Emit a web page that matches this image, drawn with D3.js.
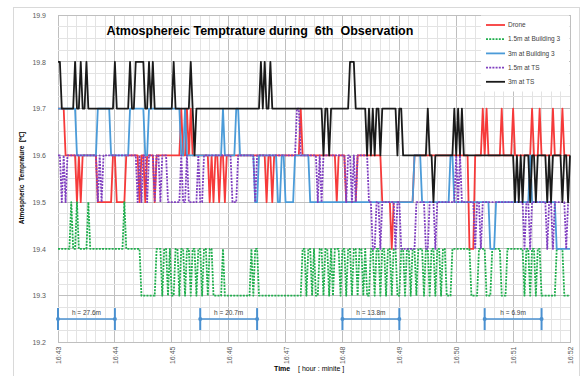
<!DOCTYPE html>
<html><head><meta charset="utf-8">
<script src="https://cdn.jsdelivr.net/npm/d3@7"></script>
<style>body{margin:0;background:#fff;} text{font-family:"Liberation Sans",Arial,sans-serif;}</style>
</head><body><svg id="c" width="581" height="376"></svg>
<script>
// time in seconds after 16:43:00, sampled every 2 s; values change at listed times
const xTickLabels = ["16:43","16:44","16:45","16:46","16:47","16:48","16:49","16:50","16:51","16:52"];
const yTickValues = [19.2,19.3,19.4,19.5,19.6,19.7,19.8,19.9];
const seriesNames = ["Drone","1.5m at Building 3","3m at Building 3","1.5m at TS","3m at TS"];

const droneT = [0,8,20,22,24,26,42,58,62,72,86,88,92,94,102,104,130,132,136,138,140,142,160,162,164,166,170,172,176,178,220,222,226,228,256,258,294,296,304,316,342,352,354,376,434,440,448,450,452,454,468,470,480,482,500,502,508,510,522,524,532,534];
const droneV = [19.7,19.6,19.5,19.6,19.5,19.6,19.5,19.6,19.5,19.6,19.5,19.6,19.5,19.6,19.5,19.6,19.7,19.6,19.7,19.6,19.7,19.6,19.5,19.6,19.5,19.6,19.5,19.6,19.5,19.6,19.5,19.6,19.5,19.6,19.7,19.6,19.5,19.6,19.5,19.6,19.5,19.4,19.5,19.6,19.4,19.6,19.7,19.6,19.7,19.6,19.7,19.6,19.7,19.6,19.7,19.6,19.7,19.6,19.7,19.6,19.7,19.6];

const b15T = [0,14,16,20,22,32,34,70,72,88,104,110,112,116,118,120,124,128,130,134,136,140,142,146,148,152,154,158,160,164,174,176,204,206,208,212,258,262,264,268,270,272,276,280,282,286,288,290,292,298,300,304,306,310,312,316,318,322,324,326,330,334,336,340,342,346,348,352,354,358,362,366,368,372,374,378,380,386,388,392,394,398,400,404,406,410,416,436,444,452,458,468,474,492,494,498,500,504,506,510,526,534];
const b15V = [19.4,19.5,19.4,19.5,19.4,19.5,19.4,19.5,19.4,19.3,19.4,19.3,19.4,19.3,19.4,19.3,19.4,19.3,19.4,19.3,19.4,19.3,19.4,19.3,19.4,19.3,19.4,19.3,19.4,19.3,19.4,19.3,19.4,19.3,19.4,19.3,19.4,19.3,19.4,19.3,19.4,19.3,19.4,19.3,19.4,19.3,19.4,19.3,19.4,19.3,19.4,19.3,19.4,19.3,19.4,19.3,19.4,19.3,19.4,19.3,19.4,19.3,19.4,19.3,19.4,19.3,19.4,19.3,19.4,19.3,19.4,19.3,19.4,19.3,19.4,19.3,19.4,19.3,19.4,19.3,19.4,19.3,19.4,19.3,19.4,19.3,19.4,19.3,19.4,19.3,19.4,19.3,19.4,19.3,19.4,19.3,19.4,19.3,19.4,19.3,19.4,19.3];

const b3T = [0,20,42,56,76,92,96,130,134,136,174,176,188,192,208,212,232,236,240,250,266,376,384,414,418,456,462,498,500,526];
const b3V = [19.7,19.6,19.7,19.6,19.7,19.6,19.7,19.6,19.7,19.6,19.7,19.6,19.7,19.6,19.5,19.6,19.5,19.6,19.5,19.6,19.5,19.6,19.5,19.6,19.5,19.4,19.5,19.6,19.5,19.4];

const ts15T = [0,4,6,8,10,42,44,46,48,84,86,88,90,94,96,102,104,108,110,116,130,132,136,138,148,150,154,184,190,208,210,252,256,274,276,278,280,304,306,310,312,314,316,328,332,336,340,342,356,358,362,378,388,392,398,400,420,422,424,426,440,442,446,448,492,494,498,500,516,518,522,524,536,538];
const ts15V = [19.6,19.5,19.6,19.5,19.6,19.5,19.6,19.5,19.6,19.5,19.6,19.5,19.6,19.5,19.6,19.5,19.6,19.5,19.6,19.5,19.6,19.5,19.6,19.5,19.6,19.5,19.6,19.5,19.6,19.5,19.6,19.7,19.6,19.5,19.6,19.5,19.6,19.5,19.6,19.5,19.6,19.5,19.6,19.5,19.4,19.5,19.4,19.5,19.4,19.5,19.4,19.5,19.4,19.5,19.4,19.5,19.6,19.5,19.6,19.5,19.4,19.5,19.4,19.5,19.4,19.5,19.4,19.5,19.4,19.5,19.4,19.5,19.4,19.5];

const ts3T = [0,4,18,20,24,26,30,32,60,62,76,78,82,92,96,98,100,102,122,124,140,142,144,146,214,216,218,220,224,226,280,282,286,288,308,314,326,328,330,332,334,336,340,342,358,360,364,390,392,396,398,418,420,422,424,426,428,482,484,486,488,490,492,498,500,504,506,516,518,520,522,532,534,538,540];
const ts3V = [19.8,19.7,19.8,19.7,19.8,19.7,19.8,19.7,19.8,19.7,19.8,19.7,19.8,19.7,19.8,19.7,19.8,19.7,19.8,19.7,19.8,19.7,19.6,19.7,19.8,19.7,19.8,19.7,19.8,19.7,19.6,19.7,19.6,19.7,19.8,19.7,19.6,19.7,19.6,19.7,19.6,19.7,19.6,19.7,19.6,19.7,19.6,19.7,19.6,19.5,19.6,19.7,19.6,19.7,19.6,19.7,19.6,19.5,19.6,19.5,19.6,19.5,19.6,19.5,19.6,19.5,19.6,19.5,19.6,19.5,19.6,19.5,19.6,19.5,19.6];

const heightLabels = ["h = 27.6m","h = 20.7m","h = 13.8m","h = 6.9m"];
const heightStart = [0,150,300,450];   // seconds
const heightEnd = [60,210,360,510];
const heightLevel = 19.25;

const svg = d3.select("#c");
const m = {l:58, r:570, t:15, b:342.5};
const x = d3.scaleLinear().domain([0,540]).range([m.l, m.r]);
const y = d3.scaleLinear().domain([19.2,19.9]).range([m.b, m.t]);

// chart border
svg.append("rect").attr("x",13.5).attr("y",7.5).attr("width",566).attr("height",372).attr("fill","#fff").attr("stroke","#d9d9d9");

// grid
const g = svg.append("g");
g.selectAll(".mx").data(d3.range(0,541,10)).join("line")
  .attr("x1",d=>x(d)).attr("x2",d=>x(d)).attr("y1",m.t).attr("y2",m.b)
  .attr("stroke",d=>d%60===0?"#bfbfbf":"#e3e3e3").attr("stroke-width",1).attr("shape-rendering","crispEdges");
g.selectAll(".my").data(d3.range(0,29)).join("line")
  .attr("y1",d=>y(19.2+d*0.025)).attr("y2",d=>y(19.2+d*0.025)).attr("x1",m.l).attr("x2",m.r)
  .attr("stroke",d=>d%4===0?"#bfbfbf":"#e3e3e3").attr("stroke-width",1).attr("shape-rendering","crispEdges");

// axes
const yAxis = d3.axisLeft(y).tickValues(yTickValues).tickFormat(d3.format(".1f")).tickSize(0).tickPadding(12);
const ya = svg.append("g").attr("transform",`translate(${m.l},0)`).call(yAxis);
ya.select(".domain").remove();
ya.selectAll("text").attr("font-size",7).attr("fill","#595959").attr("font-family","Liberation Sans, Arial");

const xAxis = d3.axisBottom(x).tickValues(d3.range(0,541,60)).tickFormat((d,i)=>xTickLabels[i]).tickSize(0);
const xa = svg.append("g").attr("transform",`translate(0,${m.b})`).call(xAxis);
xa.select(".domain").remove();
xa.selectAll("text").attr("font-size",7).attr("fill","#595959").attr("font-family","Liberation Sans, Arial")
  .attr("transform","rotate(-90)").attr("text-anchor","end").attr("dy","0.35em").attr("x",-4).attr("y",0);

// series
function expand(T,V){ const out=[]; let j=0; for(let t=0;t<=540;t+=2){ while(j+1<T.length && T[j+1]<=t) j++; out.push({t:t,v:V[j]}); } return out; }
const line = d3.line().x(d=>x(d.t)).y(d=>y(d.v));
const series = [
  {data:expand(droneT,droneV), color:"#f63a3a", dash:null},
  {data:expand(b15T,b15V), color:"#1fae4c", dash:"2,1.2"},
  {data:expand(b3T,b3V), color:"#4b9bd8", dash:null},
  {data:expand(ts15T,ts15V), color:"#8040c0", dash:"2,1.2"},
  {data:expand(ts3T,ts3V), color:"#1a1a1a", dash:null}
];
svg.append("g").selectAll("path").data(series).join("path")
  .attr("d",d=>line(d.data)).attr("fill","none").attr("stroke",d=>d.color)
  .attr("stroke-width",1.8).attr("stroke-dasharray",d=>d.dash).attr("stroke-linejoin","round");

// height annotations
const an = svg.append("g");
heightLabels.forEach((lab,i)=>{
  const x1=x(heightStart[i]), x2=x(heightEnd[i]), yy=y(heightLevel);
  an.append("line").attr("x1",x1).attr("x2",x2).attr("y1",yy).attr("y2",yy).attr("stroke","#4a90d0").attr("stroke-width",1.5);
  [x1,x2].forEach(xx=>{
    an.append("line").attr("x1",xx).attr("x2",xx).attr("y1",yy-11).attr("y2",yy+11).attr("stroke","#4a90d0").attr("stroke-width",2);
    an.append("circle").attr("cx",xx).attr("cy",yy).attr("r",2).attr("fill","#4a90d0");
  });
  an.append("text").attr("x",(x1+x2)/2).attr("y",yy-4).attr("text-anchor","middle").attr("font-size",6.5).attr("fill","#404040").text(lab);
});

// legend
const lg = svg.append("g");
lg.append("rect").attr("x",481).attr("y",15.5).attr("width",88).attr("height",76).attr("fill","#fff");
seriesNames.forEach((n,i)=>{
  const s = series[i], yy = 25 + i*14.2;
  lg.append("line").attr("x1",486).attr("x2",505).attr("y1",yy).attr("y2",yy).attr("stroke",s.color).attr("stroke-width",1.8).attr("stroke-dasharray",s.dash);
  lg.append("text").attr("x",508).attr("y",yy).attr("dy","0.35em").attr("font-size",6.5).attr("fill","#404040").text(n);
});

// title
svg.append("text").attr("x",260).attr("y",35).attr("text-anchor","middle").attr("font-size",12.5).attr("font-weight","bold").attr("fill","#000")
  .style("white-space","pre").text("Atmosphereic Temptrature during  6th  Observation");

// axis titles
svg.append("text").attr("transform","translate(24,178) rotate(-90)").attr("text-anchor","middle").attr("font-size",6.5).attr("font-weight","bold")
  .style("white-space","pre").text("Atmospheric  Temprature  [℃]");
const xt = svg.append("text").attr("x",274).attr("y",371).attr("font-size",7).style("white-space","pre");
xt.append("tspan").attr("font-weight","bold").text("Time");
xt.append("tspan").text("    [ hour : minite ]");
</script></body></html>
